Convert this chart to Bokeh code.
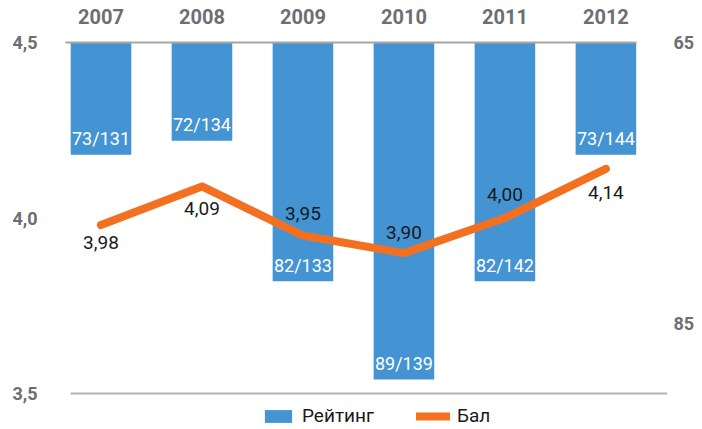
from bokeh.plotting import figure
from bokeh.models import (Range1d, LinearAxis, FixedTicker, ColumnDataSource,
                          Legend, LegendItem)
from bokeh.core.properties import value
from bokeh.embed import file_html
from bokeh.resources import INLINE

years = ["2007", "2008", "2009", "2010", "2011", "2012"]
rank = [73, 72, 82, 89, 82, 73]
total = [131, 134, 133, 139, 142, 144]
score = [3.98, 4.09, 3.95, 3.90, 4.00, 4.14]
score_dy = [17, 22, -22, -21, -24, 24]

left_ticks = [3.5, 4.0, 4.5]
right_ticks = [65, 85]

FONT = "Roboto"
GRAY = "#6d6e71"
BLUE = "#4494d3"
ORANGE = "#f37021"

# layout (pixels): frame top, axis baseline, frame bottom
TOP_PX, BASE_PX, BOT_PX = 42, 393, 429
span_px = BASE_PX - TOP_PX
extra = (BOT_PX - BASE_PX) / span_px
y_lo, y_hi = 3.5, 4.5
r_top, r_base = 65, 90

xs = list(range(len(years)))
src = ColumnDataSource(dict(
    x=xs, rank=rank, top=[r_top] * len(xs),
    rlab=[f"{r}/{t}" for r, t in zip(rank, total)],
    score=score, slab=[f"{s:.2f}".replace(".", ",") for s in score],
    dy=score_dy,
))

p = figure(width=702, height=429, output_backend="svg", toolbar_location=None,
           x_range=Range1d(-0.5, 5.61),
           y_range=Range1d(y_lo - extra * (y_hi - y_lo), y_hi),
           min_border_left=50, min_border_right=35, min_border_top=TOP_PX,
           min_border_bottom=0, x_axis_location=None, y_axis_location=None)
p.outline_line_color = None
p.grid.visible = False
p.background_fill_color = "white"
p.extra_y_ranges = {"rank": Range1d(start=r_base + extra * (r_base - r_top), end=r_top)}

bars = p.vbar(x="x", top="top", bottom="rank", width=0.6, source=src,
              y_range_name="rank", fill_color=BLUE, line_color=None)
ln = p.line(x="x", y="score", source=src, line_color=ORANGE, line_width=8,
            line_cap="round", line_join="round")

p.text(x="x", y="rank", text="rlab", source=src, y_range_name="rank",
       text_align="center", text_baseline="middle", y_offset=-16,
       text_color="white", text_font=value(FONT), text_font_size="18px")
p.text(x="x", y="score", text="slab", source=src, y_offset="dy",
       text_align="center", text_baseline="middle",
       text_color="#1a1a1a", text_font=value(FONT), text_font_size="19px")

# baseline of the chart area
p.segment(x0=[-0.30], y0=[y_lo], x1=[5.61], y1=[y_lo],
          line_color="#b3b3b3", line_width=2)

def style(ax, size):
    ax.major_tick_line_color = None
    ax.minor_tick_line_color = None
    ax.major_label_text_font = FONT
    ax.major_label_text_font_style = "bold"
    ax.major_label_text_color = GRAY
    ax.major_label_text_font_size = size

la = LinearAxis(ticker=FixedTicker(ticks=left_ticks),
                major_label_overrides={t: f"{t:.1f}".replace(".", ",") for t in left_ticks})
style(la, "18px")
la.axis_line_color = None
la.major_label_standoff = 7
p.add_layout(la, "left")

ra = LinearAxis(y_range_name="rank", ticker=FixedTicker(ticks=right_ticks))
style(ra, "18px")
ra.axis_line_color = None
ra.major_label_standoff = 0
p.add_layout(ra, "right")

ta = LinearAxis(ticker=FixedTicker(ticks=xs),
                major_label_overrides={i: y for i, y in enumerate(years)},
                bounds=(-0.35, 5.30))
style(ta, "20px")
ta.axis_line_color = "#a6a6a6"
ta.axis_line_width = 2
ta.major_label_standoff = 13
p.add_layout(ta, "above")

legend = Legend(items=[LegendItem(label="Рейтинг", renderers=[bars]),
                       LegendItem(label="Бал", renderers=[ln])],
                orientation="horizontal", location=(211, 2),
                glyph_width=34, glyph_height=16, padding=0, margin=0,
                spacing=42, label_standoff=7, label_height=16,
                label_text_font=FONT, label_text_font_size="19px",
                label_text_color="#1a1a1a",
                border_line_color=None, background_fill_alpha=0)
p.add_layout(legend, "center")

open("out.html", "w").write(file_html(p, INLINE))
